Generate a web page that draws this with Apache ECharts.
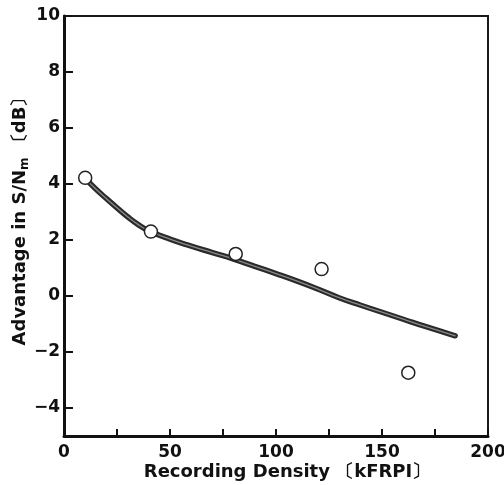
<!DOCTYPE html>
<html><head><meta charset="utf-8">
<script src="https://cdn.jsdelivr.net/npm/echarts@6/dist/echarts.min.js"></script>
<style>html,body{margin:0;padding:0;background:#fff}#c{width:504px;height:485px}</style>
</head><body><div id="c"></div>
<script>
const measuredX = [10, 41, 81, 121.5, 162.4];
const measuredY = [4.22, 2.3, 1.5, 0.96, -2.74];
const curveX = [10, 15, 20, 25, 30, 35, 40, 50, 60, 70, 80, 90, 100, 110, 120, 130, 140, 150, 160, 170, 184.5];
const curveY = [4.2, 3.82, 3.48, 3.15, 2.83, 2.55, 2.33, 2.03, 1.78, 1.55, 1.32, 1.06, 0.8, 0.53, 0.24, -0.07, -0.33, -0.58, -0.83, -1.08, -1.42];
const xTicks = [0, 25, 50, 75, 100, 125, 150, 175, 200];
const xLabels = [0, 50, 100, 150, 200];
const yTicks = [-4, -2, 0, 2, 4, 6, 8, 10];

const font = 'DejaVu Sans, Verdana, sans-serif';
const chart = echarts.init(document.getElementById('c'));
const curve = curveX.map((x, i) => [x, curveY[i]]);
const pts = measuredX.map((x, i) => [x, measuredY[i]]);
chart.setOption({
  animation: false,
  grid: {left: 64, right: 16, top: 16, bottom: 49, outerBoundsMode: 'none', containLabel: false,
    show: true, borderColor: '#1a1a1a', borderWidth: 2, backgroundColor: 'transparent'},
  xAxis: {
    type: 'value', min: 0, max: 200,
    axisLine: {show: true, onZero: false, lineStyle: {color: '#111', width: 3}},
    axisTick: {show: true, inside: true, length: 7, customValues: xTicks, lineStyle: {color: '#111', width: 2}},
    axisLabel: {customValues: xLabels, color: '#111', fontFamily: font, fontWeight: 'bold', fontSize: 17, margin: 8},
    splitLine: {show: false},
    name: '{g| }{a|Recording Density 〔kFRPI〕}', nameLocation: 'middle', nameGap: 27, nameMoveOverlap: false,
    nameTextStyle: {color: '#111', fontFamily: font, fontWeight: 'bold', fontSize: 18, verticalAlign: 'top',
      rich: {
        g: {width: 22, fontSize: 18},
        a: {color: '#111', fontFamily: font, fontWeight: 'bold', fontSize: 18}
      }}
  },
  yAxis: {
    type: 'value', min: -5, max: 10,
    axisLine: {show: true, onZero: false, lineStyle: {color: '#111', width: 3}},
    axisTick: {show: true, inside: true, length: 9, customValues: yTicks, lineStyle: {color: '#111', width: 2}},
    axisLabel: {customValues: yTicks, color: '#111', fontFamily: font, fontWeight: 'bold', fontSize: 17, margin: 4,
      formatter: v => String(v).replace('-', '\u2212')},
    splitLine: {show: false},
    name: '{g| }{a|Advantage in S/N}{s|m}{a| 〔dB〕}', nameLocation: 'middle', nameGap: 33, nameRotate: 90, nameMoveOverlap: false,
    nameTextStyle: {color: '#111', fontFamily: font, fontWeight: 'bold', fontSize: 18,
      rich: {
        g: {width: 18, fontSize: 18, lineHeight: 21},
        a: {color: '#111', fontFamily: font, fontWeight: 'bold', fontSize: 18, lineHeight: 21},
        s: {color: '#111', fontFamily: font, fontWeight: 'bold', fontSize: 12, lineHeight: 21, verticalAlign: 'bottom', padding: [8, 0, 0, 0]}
      }}
  },
  series: [
    {type: 'line', data: curve, smooth: 0.5, symbol: 'none', lineStyle: {color: '#2a2a2a', width: 5.5, cap: 'round'}, z: 2},
    {type: 'line', data: curve, smooth: 0.5, symbol: 'none', lineStyle: {color: '#8a8a8a', width: 1.3, cap: 'round'}, z: 3},
    {type: 'scatter', data: pts, symbol: 'circle', symbolSize: 13, itemStyle: {color: '#fff', borderColor: '#222', borderWidth: 1.5, opacity: 1}, z: 4}
  ]
});
</script></body></html>
